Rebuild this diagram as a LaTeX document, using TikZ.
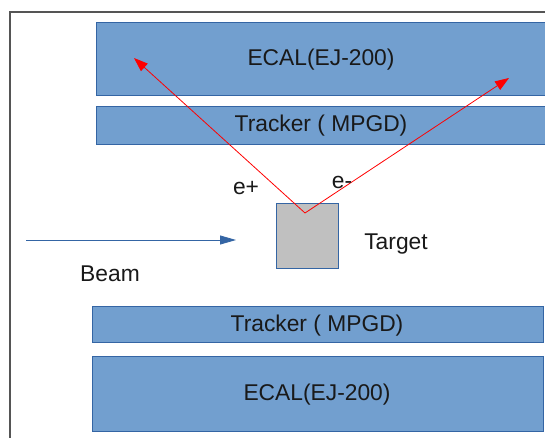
\documentclass[tikz,border=0pt]{standalone}
\usepackage{fontspec}
\setmainfont{Liberation Sans}
\usetikzlibrary{arrows.meta}
\definecolor{boxfill}{HTML}{729FCF}
\definecolor{boxline}{HTML}{3465A4}
\definecolor{tgtfill}{HTML}{C0C0C0}
\definecolor{framecol}{HTML}{555555}
\begin{document}
\begin{tikzpicture}[x=1pt,y=-1pt,
  layer/.style={draw=boxline,fill=boxfill,line width=0.9pt,rectangle,inner sep=0pt,
    font=\fontsize{22.8}{26}\selectfont,text=black!90},
  lbl/.style={font=\fontsize{22.8}{26}\selectfont,inner sep=0pt,text=black!90},
  track/.style={draw=red,line width=0.8pt,-{Triangle[length=14pt,width=10pt]}},
  beamarrow/.style={draw=boxline,line width=0.8pt,-{Triangle[length=16pt,width=9pt]}}]
\useasboundingbox (0,0) rectangle (545,438);
\fill[white] (0,0) rectangle (545,438);
% frame
\draw[framecol,line width=1.2pt] (10,445) -- (10,12) -- (550,12);
% layers
\node[layer,minimum width=456pt,minimum height=73pt,anchor=north west] (ecaltop) at (96,22) {};
\node[lbl] (ecaltoplbl) at (321,60) {ECAL(EJ-200)};
\node[layer,minimum width=456pt,minimum height=38pt,anchor=north west] (trktop) at (96,106) {};
\node[lbl] (trktoplbl) at (321,126) {Tracker ( MPGD)};
\node[layer,minimum width=451pt,minimum height=36pt,anchor=north west] (trkbot) at (92,306) {};
\node[lbl] (trkbotlbl) at (317,326) {Tracker ( MPGD)};
\node[layer,minimum width=451pt,minimum height=75pt,anchor=north west] (ecalbot) at (92,356) {};
\node[lbl] (ecalbotlbl) at (317,395) {ECAL(EJ-200)};
% target
\node[draw=boxline,fill=tgtfill,line width=0.9pt,minimum width=62pt,minimum height=65pt,inner sep=0pt] (target) at (307.5,235.5) {};
\node[lbl] (targetlbl) at (396,244) {Target};
% beam
\coordinate (beamstart) at (26,240);
\coordinate (beamend) at (236,240);
\draw[beamarrow] (beamstart) -- (beamend);
\node[lbl] (beamlbl) at (110,274) {Beam};
% tracks
\coordinate (vtx) at (305,213);
\coordinate (eplus) at (134,58);
\coordinate (eminus) at (509,78);
\draw[track] (vtx) -- (eplus);
\draw[track] (vtx) -- (eminus);
\node[lbl] (epluslbl) at (246,188) {e+};
\node[lbl] (eminuslbl) at (342,182) {e-};
\end{tikzpicture}
\end{document}
